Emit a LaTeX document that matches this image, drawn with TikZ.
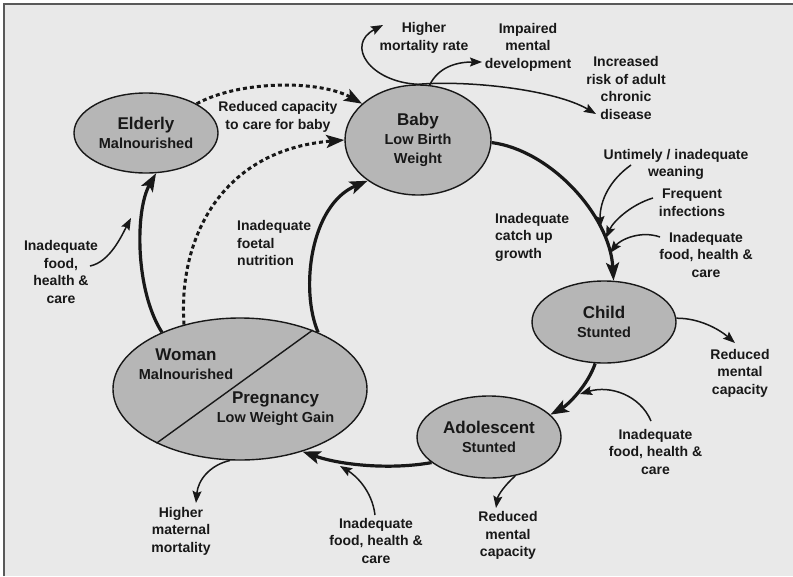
\documentclass[tikz,border=0pt]{standalone}
\usepackage{fontspec}
\setmainfont{Liberation Sans}
\usetikzlibrary{shapes.geometric,arrows.meta}
\definecolor{bgc}{RGB}{233,233,233}
\definecolor{ellc}{RGB}{182,182,182}
\definecolor{ink}{RGB}{24,24,24}
\newcommand\TitleF{\fontsize{17}{19}\selectfont\bfseries}
\newcommand\SubF{\fontsize{14.5}{19}\selectfont\bfseries}
\newcommand\LabF{\fontsize{14}{17.5}\selectfont\bfseries}
\begin{document}
\begin{tikzpicture}[x=1pt,y=-1pt,
  stage/.style={ellipse, draw=ink, line width=1.4pt, fill=ellc, inner sep=0pt, align=center, font=\SubF, text=ink},
  lab/.style={font=\LabF, align=center, text=ink, inner sep=0pt},
  mainarr/.style={line width=3.2pt, draw=ink, -{Stealth[length=18pt,width=13pt,inset=4pt]}},
  dasharr/.style={line width=3pt, draw=ink, dash pattern=on 4pt off 3pt, -{Stealth[length=18pt,width=13pt,inset=4pt]}},
  thinarr/.style={line width=1.5pt, draw=ink, -{Stealth[length=12pt,width=9pt,inset=2pt]}}]
\useasboundingbox (0,0) rectangle (793,576);
\fill[white] (0,0) rectangle (793,576);
\fill[bgc] (4,4) rectangle (793,576);
\draw[line width=2.2pt, draw=black!65] (4,576) -- (4,4) -- (793,4);

% stages
\node[stage, minimum width=144pt, minimum height=80pt] (eld) at (146,133) {{\TitleF Elderly}\\Malnourished};
\node[stage, minimum width=146pt, minimum height=110pt] (baby) at (418,140) {{\TitleF Baby}\\Low Birth\\Weight};
\node[stage, minimum width=144pt, minimum height=82pt] (child) at (604,322) {{\TitleF Child}\\Stunted};
\node[stage, minimum width=144pt, minimum height=82pt] (adol) at (489,437) {{\TitleF Adolescent}\\Stunted};
\node[stage, minimum width=254pt, minimum height=142pt] (woman) at (240,389) {};
\draw[line width=1.4pt, draw=ink] (woman.-147) -- (woman.39);
\node[lab, font=\SubF] (wtxt) at (186,364.5) {{\TitleF Woman}\\Malnourished};
\node[lab, font=\SubF] (ptxt) at (275.5,409) {{\TitleF Pregnancy}\\Low Weight Gain};

% labels
\node[lab] (lcap) at (278,117) {Reduced capacity\\to care for baby};
\node[lab] (lfoodL) at (61,272) {Inadequate\\food,\\health \&\\care};
\node[lab, align=left, anchor=west] (lfoet) at (237,243) {Inadequate\\foetal\\nutrition};
\node[lab] (lmort) at (424,38) {Higher\\mortality rate};
\node[lab] (limp) at (528,47) {Impaired\\mental\\development};
\node[lab] (lrisk) at (626,88) {Increased\\risk of adult\\chronic\\disease};
\node[lab] (lwean) at (676,164.5) {Untimely / inadequate\\weaning};
\node[lab] (linf) at (692,202.5) {Frequent\\infections};
\node[lab] (lfoodR) at (706,254.5) {Inadequate\\food, health \&\\care};
\node[lab, align=left, anchor=west] (lcatch) at (495,237) {Inadequate\\catch up\\growth};
\node[lab] (lredR) at (740,373) {Reduced\\mental\\capacity};
\node[lab] (lfoodM) at (655.5,451.5) {Inadequate\\food, health \&\\care};
\node[lab] (lredB) at (508,535.5) {Reduced\\mental\\capacity};
\node[lab] (lfoodB) at (376,540.5) {Inadequate\\food, health \&\\care};
\node[lab] (lmat) at (181,531) {Higher\\maternal\\mortality};

% main cycle
\draw[mainarr] (baby.-2) .. controls (550,150) and (610,215) .. (child.77);
\draw[mainarr] (child.-102) .. controls (588,385) and (568,405) .. (adol.20);
\draw[mainarr] (adol.-156) .. controls (390,470) and (340,465) .. (woman.-45);
\draw[mainarr] (woman.36) .. controls (300,290) and (310,205) .. (baby.-141);
\draw[mainarr] (woman.144) .. controls (135,290) and (135,210) .. (eld.-76);
\draw[dasharr] (woman.131) .. controls (178,240) and (220,150) .. (baby.180);
\draw[dasharr] (eld.30) .. controls (240,80) and (320,80) .. (baby.147);

% thin connectors
\coordinate (tmort) at (383,25);
\coordinate (timp) at (482,62);
\coordinate (trisk) at (596,114);
\draw[thinarr] (baby.north) .. controls (370,82) and (345,45) .. (tmort);
\draw[thinarr] (baby.78) .. controls (438,68) and (455,62) .. (timp);
\draw[thinarr] (baby.north) .. controls (470,80) and (555,90) .. (trisk);

\coordinate (swean) at (631,165);  \coordinate (twean) at (600,228);
\coordinate (sinf) at (653,198);   \coordinate (tinf) at (606,238);
\coordinate (sfoodR) at (660,237); \coordinate (tfoodR) at (610,253);
\draw[thinarr] (swean) .. controls (610,180) and (600,200) .. (twean);
\draw[thinarr] (sinf) .. controls (630,205) and (613,222) .. (tinf);
\draw[thinarr] (sfoodR) .. controls (640,230) and (620,240) .. (tfoodR);

\coordinate (sfoodL) at (90,266); \coordinate (tfoodL) at (131,218);
\draw[thinarr] (sfoodL) .. controls (110,262) and (122,235) .. (tfoodL);

\coordinate (tredR) at (735,343);
\draw[thinarr] (child.3) .. controls (700,318) and (720,330) .. (tredR);

\coordinate (sfoodM) at (651,421); \coordinate (tfoodM) at (580,394);
\draw[thinarr] (sfoodM) .. controls (640,395) and (610,385) .. (tfoodM);

\coordinate (tredB) at (496,508);
\draw[thinarr] (adol.-56) .. controls (505,485) and (498,495) .. (tredB);

\coordinate (sfoodB) at (375,515); \coordinate (tfoodB) at (340,466);
\draw[thinarr] (sfoodB) .. controls (372,490) and (355,475) .. (tfoodB);

\coordinate (tmat) at (196,503);
\draw[thinarr] (woman.-98) .. controls (210,465) and (198,480) .. (tmat);
\end{tikzpicture}
\end{document}
